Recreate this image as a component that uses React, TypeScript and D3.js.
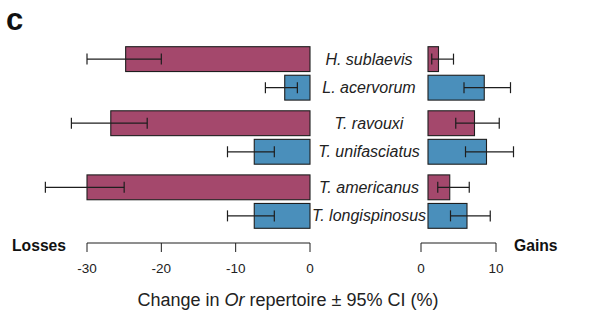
import React from 'react'
import * as d3 from 'd3'

// species, grouped in pairs (top -> bottom)
const groups = ['g1', 'g2', 'g3']
const species = ['H. sublaevis', 'L. acervorum', 'T. ravouxi', 'T. unifasciatus', 'T. americanus', 'T. longispinosus']
const speciesGroup = ['g1', 'g1', 'g2', 'g2', 'g3', 'g3']
const role = ['parasite', 'host', 'parasite', 'host', 'parasite', 'host']

// losses (%), with 95% CI
const losses = [-24.8, -3.4, -26.8, -7.5, -30.0, -7.5]
const lossLo = [-30.0, -6.0, -32.1, -11.1, -35.6, -11.1]
const lossHi = [-20.0, -1.7, -21.9, -4.8, -25.0, -4.8]

// gains (%), with 95% CI
const gains = [1.4, 7.5, 6.2, 7.8, 2.9, 5.2]
const gainLo = [0.5, 4.8, 3.7, 5.0, 1.3, 3.0]
const gainHi = [3.4, 11.0, 9.5, 11.4, 5.5, 8.3]

const lossTicks = [-30, -20, -10, 0]
const gainTicks = [0, 10]

const colors: Record<string, string> = { parasite: '#a4486c', host: '#4a8fbb' }

const W = 596
const H = 329
const font = '"Liberation Sans", Arial, Helvetica, sans-serif'

export default function App () {
  const xL = d3.scaleLinear().domain([-30, 0]).range([87, 310])
  const xR = d3.scaleLinear().domain([0, 10]).range([428, 503])
  const axisOffset = -7 // gains axis sits a little left of the bar origin

  const yG = d3.scaleBand().domain(groups).range([46.7, 228.3]).paddingInner(0.167)
  const yS = d3.scaleBand().domain(['0', '1']).range([0, yG.bandwidth()]).paddingInner(0.13)

  const rows = species.map((s, i) => {
    const gi = speciesGroup[i]
    const idx = speciesGroup.slice(0, i).filter(g => g === gi).length
    const y = (yG(gi) as number) + (yS(String(idx)) as number)
    return { s, i, y, h: yS.bandwidth() }
  })

  const axisY = 243
  const tickLen = 9
  const capH = 11
  const ink = '#1e1e1e'

  return (
    <svg width={W} height={H} style={{ display: 'block', position: 'absolute', left: 0, top: 0 }}>
      <rect width={W} height={H} fill='#fff' />
      <text x={6} y={30} fontFamily={font} fontWeight='bold' fontSize={31} fill='#111'>c</text>

      {rows.map(r => {
        const cy = r.y + r.h / 2
        return (
          <g key={r.s}>
            <rect x={xL(losses[r.i])} y={r.y} width={xL(0) - xL(losses[r.i])} height={r.h}
              fill={colors[role[r.i]]} stroke={ink} strokeWidth={1.1} />
            <line x1={xL(lossLo[r.i])} x2={xL(lossHi[r.i])} y1={cy} y2={cy} stroke={ink} strokeWidth={1.2} />
            <line x1={xL(lossLo[r.i])} x2={xL(lossLo[r.i])} y1={cy - capH / 2} y2={cy + capH / 2} stroke={ink} strokeWidth={1.2} />
            <line x1={xL(lossHi[r.i])} x2={xL(lossHi[r.i])} y1={cy - capH / 2} y2={cy + capH / 2} stroke={ink} strokeWidth={1.2} />

            <rect x={xR(0)} y={r.y} width={xR(gains[r.i]) - xR(0)} height={r.h}
              fill={colors[role[r.i]]} stroke={ink} strokeWidth={1.1} />
            <line x1={xR(gainLo[r.i])} x2={xR(gainHi[r.i])} y1={cy} y2={cy} stroke={ink} strokeWidth={1.2} />
            <line x1={xR(gainLo[r.i])} x2={xR(gainLo[r.i])} y1={cy - capH / 2} y2={cy + capH / 2} stroke={ink} strokeWidth={1.2} />
            <line x1={xR(gainHi[r.i])} x2={xR(gainHi[r.i])} y1={cy - capH / 2} y2={cy + capH / 2} stroke={ink} strokeWidth={1.2} />

            <text x={369} y={cy} dy='0.35em' textAnchor='middle' fontFamily={font} fontStyle='italic' fontSize={16} fill='#222'>{r.s}</text>
          </g>
        )
      })}

      {/* losses axis */}
      <g fontFamily={font} fontSize={13.5} fill='#222'>
        <line x1={xL(-30)} x2={xL(0)} y1={axisY} y2={axisY} stroke={ink} strokeWidth={1} />
        {lossTicks.map(t => (
          <g key={t}>
            <line x1={xL(t)} x2={xL(t)} y1={axisY} y2={axisY + tickLen} stroke={ink} strokeWidth={1} />
            <text x={xL(t)} y={273} textAnchor='middle'>{t}</text>
          </g>
        ))}
      </g>

      {/* gains axis */}
      <g fontFamily={font} fontSize={13.5} fill='#222' transform={`translate(${axisOffset},0)`}>
        <line x1={xR(0)} x2={xR(10)} y1={axisY} y2={axisY} stroke={ink} strokeWidth={1} />
        {gainTicks.map(t => (
          <g key={t}>
            <line x1={xR(t)} x2={xR(t)} y1={axisY} y2={axisY + tickLen} stroke={ink} strokeWidth={1} />
            <text x={xR(t)} y={273} textAnchor='middle'>{t}</text>
          </g>
        ))}
      </g>

      <text x={12} y={251} fontFamily={font} fontWeight='bold' fontSize={15.7} fill='#111'>Losses</text>
      <text x={514} y={251} fontFamily={font} fontWeight='bold' fontSize={15.7} fill='#111'>Gains</text>

      <text x={288} y={306} textAnchor='middle' fontFamily={font} fontSize={18} fill='#222'>
        Change in <tspan fontStyle='italic'>Or</tspan> repertoire ± 95% CI (%)
      </text>
    </svg>
  )
}
